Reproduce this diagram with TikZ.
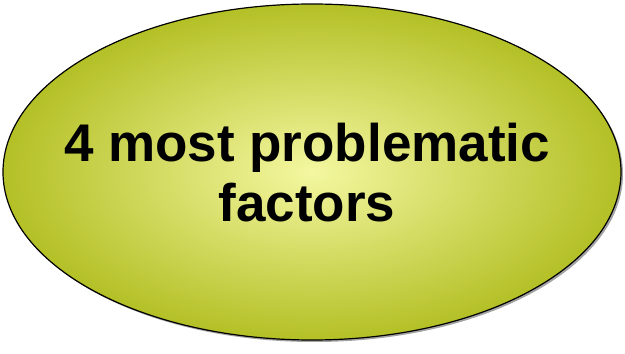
\documentclass[tikz,border=0pt]{standalone}
\usepackage{fontspec}
\setmainfont{Liberation Sans}
\usetikzlibrary{shadows,shapes.geometric}
\definecolor{edgeolive}{RGB}{180,192,38}
\definecolor{centeryellow}{RGB}{244,247,160}
\tikzset{
  blob/.style={ellipse, draw=black, line width=1.2pt, minimum width=618pt, minimum height=336pt,
    inner color=centeryellow, outer color=edgeolive,
    drop shadow={shadow xshift=2pt, shadow yshift=-2pt, fill=black!60, opacity=0.6}},
  label/.style={font=\bfseries\fontsize{53}{60}\selectfont, align=center, text=black}
}
\begin{document}
\begin{tikzpicture}[x=1pt,y=1pt]
\useasboundingbox (0,0) rectangle (625,354);
\node[blob] (ell) at (312,182) {};
\node[label] (txt) at (307,181) {4 most problematic\\factors};
\end{tikzpicture}
\end{document}
